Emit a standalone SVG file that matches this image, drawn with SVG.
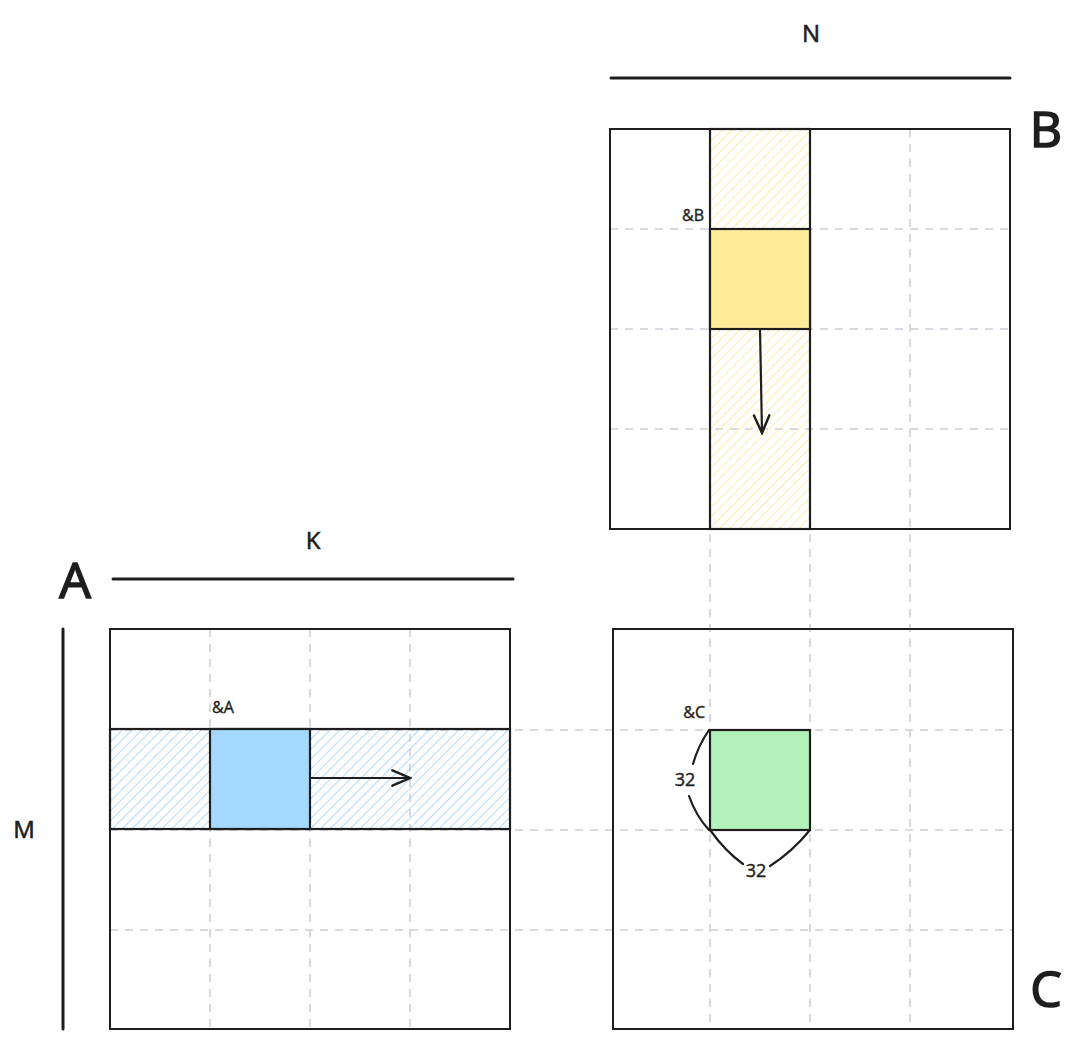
<svg xmlns="http://www.w3.org/2000/svg" width="1072" height="1040" viewBox="0 0 1072 1040">
<style>
.frame{fill:none;stroke:#1e1e1e;stroke-width:2}
.grid{fill:none;stroke:#ccd1d9;stroke-width:1.6;stroke-dasharray:8 7}
.axis{fill:none;stroke:#1e1e1e;stroke-width:3;stroke-linecap:round}
.lbl{font-family:"Open Sans","Liberation Sans",sans-serif;fill:#1e1e1e;stroke:#1e1e1e;stroke-width:0.6}
.big{font-size:50px;stroke-width:1.6}
.mid{font-size:24px}
.small{font-size:16px;stroke-width:0.4}
.num{font-size:18px;stroke-width:0.4}
.conn{fill:none;stroke:#1e1e1e;stroke-width:2.2;stroke-linecap:round}
</style>
<defs>
<pattern id="hatchBlue" patternUnits="userSpaceOnUse" width="7" height="7" patternTransform="rotate(45)">
<line x1="0" y1="0" x2="0" y2="7" stroke="#86c8fb" stroke-width="1.3"/>
</pattern>
<pattern id="hatchYellow" patternUnits="userSpaceOnUse" width="7" height="7" patternTransform="rotate(45)">
<line x1="0" y1="0" x2="0" y2="7" stroke="#ffe27a" stroke-width="1.3"/>
</pattern>
<marker id="arr" viewBox="0 0 20 20" refX="18" refY="10" markerWidth="22" markerHeight="22" markerUnits="userSpaceOnUse" orient="auto">
<path d="M2,3 L18,10 L2,17" fill="none" stroke="#1e1e1e" stroke-width="2.2" stroke-linecap="round"/>
</marker>
</defs>
<rect width="1072" height="1040" fill="#ffffff"/>

<g id="grid">
<line class="grid" x1="710" y1="129" x2="710" y2="1029"/>
<line class="grid" x1="810" y1="129" x2="810" y2="1029"/>
<line class="grid" x1="910" y1="129" x2="910" y2="1029"/>
<line class="grid" x1="610" y1="229" x2="1010" y2="229"/>
<line class="grid" x1="610" y1="329" x2="1010" y2="329"/>
<line class="grid" x1="610" y1="429" x2="1010" y2="429"/>
<line class="grid" x1="210" y1="629" x2="210" y2="1029"/>
<line class="grid" x1="310" y1="629" x2="310" y2="1029"/>
<line class="grid" x1="410" y1="629" x2="410" y2="1029"/>
<line class="grid" x1="110" y1="730" x2="1013" y2="730"/>
<line class="grid" x1="110" y1="830" x2="1013" y2="830"/>
<line class="grid" x1="110" y1="930" x2="1013" y2="930"/>
</g>

<g id="matrixB">
<rect x="710" y="129" width="100" height="400" fill="url(#hatchYellow)"/>
<rect class="frame" x="610" y="129" width="400" height="400"/>
<rect x="710" y="129" width="100" height="400" fill="none" stroke="#1e1e1e" stroke-width="2.2"/>
<rect x="710" y="229" width="100" height="100" fill="#ffec99" stroke="#1e1e1e" stroke-width="2.2"/>
<text class="lbl small" x="704" y="221" text-anchor="end">&amp;B</text>
<text class="lbl big" x="1046" y="147" text-anchor="middle">B</text>
</g>

<g id="labelN">
<line class="axis" x1="611" y1="78" x2="1010" y2="78"/>
<text class="lbl mid" x="811" y="42" text-anchor="middle">N</text>
</g>

<g id="matrixA">
<rect x="110" y="729" width="400" height="100" fill="url(#hatchBlue)"/>
<rect class="frame" x="110" y="629" width="400" height="400"/>
<rect x="110" y="729" width="400" height="100" fill="none" stroke="#1e1e1e" stroke-width="2.2"/>
<rect x="210" y="729" width="100" height="100" fill="#a5d8ff" stroke="#1e1e1e" stroke-width="2.2"/>
<text class="lbl small" x="212" y="713">&amp;A</text>
<text class="lbl big" x="75" y="598" text-anchor="middle">A</text>
</g>

<g id="labelK">
<line class="axis" x1="113" y1="579" x2="513" y2="579"/>
<text class="lbl mid" x="313" y="549" text-anchor="middle">K</text>
</g>

<g id="labelM">
<line class="axis" x1="63" y1="629" x2="63" y2="1029"/>
<text class="lbl mid" x="24" y="838" text-anchor="middle">M</text>
</g>

<g id="matrixC">
<rect class="frame" x="613" y="629" width="400" height="400"/>
<rect x="710" y="730" width="100" height="100" fill="#b2f2bb" stroke="#1e1e1e" stroke-width="2.2"/>
<text class="lbl small" x="705" y="718" text-anchor="end">&amp;C</text>
<text class="lbl big" x="1046" y="1007" text-anchor="middle">C</text>
</g>

<g id="connectors">
<line class="conn" x1="310" y1="778" x2="410" y2="778" marker-end="url(#arr)"/>
<line class="conn" x1="760" y1="329" x2="762" y2="433" marker-end="url(#arr)"/>
<path class="conn" d="M709,730 Q698,746 693,764"/>
<path class="conn" d="M689,796 Q696,816 709,830"/>
<path class="conn" d="M710,830 Q726,852 743,864"/>
<path class="conn" d="M770,866 Q792,852 810,830"/>
<text class="lbl num" x="685" y="786" text-anchor="middle">32</text>
<text class="lbl num" x="756" y="877" text-anchor="middle">32</text>
</g>
</svg>
